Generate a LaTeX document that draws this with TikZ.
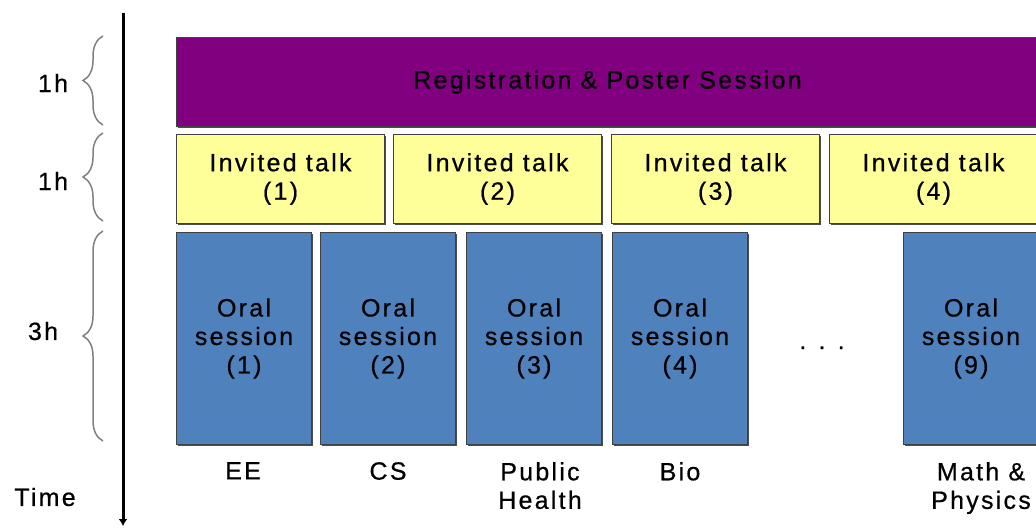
\documentclass[tikz,border=0pt]{standalone}
\usepackage{fontspec}
\setmainfont{Liberation Sans}[LetterSpace=9,FakeBold=0.6]
\usetikzlibrary{arrows.meta,decorations.pathreplacing,shadows}
\definecolor{regpurple}{HTML}{800080}
\definecolor{talkyellow}{HTML}{FFFF99}
\definecolor{oralblue}{HTML}{4F81BD}
\begin{document}
\begin{tikzpicture}[x=1pt,y=-1pt,
    every node/.style={font=\fontsize{25}{28.5}\selectfont, align=center},
    slot/.style={draw=black!75, line width=1pt, inner sep=0pt, anchor=north west,
        drop shadow={shadow xshift=1.5pt, shadow yshift=-1.5pt, fill=black!70, opacity=1}},
    regbox/.style={slot, fill=regpurple, minimum width=862pt, minimum height=89pt},
    talkbox/.style={slot, fill=talkyellow, minimum width=208pt, minimum height=89pt},
    oralbox/.style={slot, fill=oralblue, minimum width=135pt, minimum height=212pt},
    field/.style={anchor=north, inner sep=0pt},
    hbrace/.style={draw=black!50, line width=1.5pt, decorate,
        decoration={brace, amplitude=20pt}}]
    \useasboundingbox (0,0) rectangle (1036,529);

    \coordinate (ttop) at (123,13);
    \coordinate (tbot) at (123,526);
    \draw[line width=3pt, -{Latex[length=7pt,width=9pt]}] (ttop) -- (tbot);
    \node (time) at (45,497) {Time};

    \coordinate (b1t) at (103,36);
    \coordinate (b1b) at (103,125);
    \coordinate (b2t) at (103,133);
    \coordinate (b2b) at (103,221);
    \coordinate (b3t) at (103,231);
    \coordinate (b3b) at (103,441);
    \draw[hbrace] (b1b) -- (b1t);
    \draw[hbrace] (b2b) -- (b2t);
    \draw[hbrace] (b3b) -- (b3t);
    \node (h1) at (53,83) {1h};
    \node (h2) at (53,181) {1h};
    \node (h3) at (43,331) {3h};

    \node[regbox] (reg) at (176,37) {Registration \& Poster Session};
    \foreach \i/\xx in {1/176,2/393,3/611,4/829}
        \node[talkbox] (talk\i) at (\xx,134) {Invited talk\\(\i)};
    \foreach \i/\xx in {1/176,2/320,3/466,4/612,9/903}
        \node[oralbox] (oral\i) at (\xx,232) {Oral\\session\\(\i)};
    \node[anchor=base] (dots) at (822,349) {. . .};

    \node[field] (ee) at (243,462) {EE};
    \node[field] (cs) at (388,462) {CS};
    \node[field] (ph) at (540,462) {Public\\Health};
    \node[field] (bio) at (680,462) {Bio};
    \node[field] (mp) at (981,462) {Math \&\\Physics};
\end{tikzpicture}
\end{document}
